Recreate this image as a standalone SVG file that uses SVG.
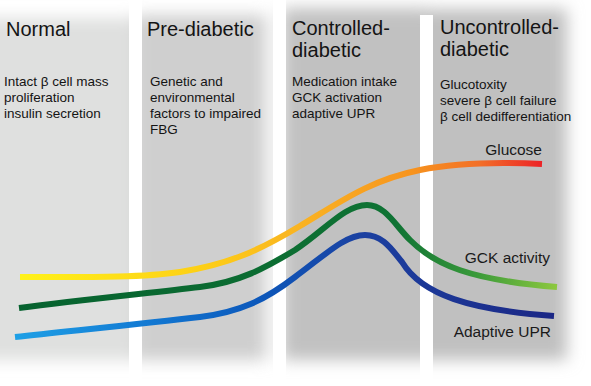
<svg xmlns="http://www.w3.org/2000/svg" width="591" height="386" viewBox="0 0 591 386">
  <defs>
    <filter id="soft" x="-20%" y="-20%" width="140%" height="140%">
      <feGaussianBlur stdDeviation="8"/>
    </filter>
    <linearGradient id="gGlucose" gradientUnits="userSpaceOnUse" x1="20" y1="0" x2="542" y2="0">
      <stop offset="0" stop-color="#fff21a"/>
      <stop offset="0.35" stop-color="#fdcf16"/>
      <stop offset="0.55" stop-color="#f9b123"/>
      <stop offset="0.75" stop-color="#f7941e"/>
      <stop offset="0.88" stop-color="#f26f28"/>
      <stop offset="1" stop-color="#ec2327"/>
    </linearGradient>
    <linearGradient id="gGck" gradientUnits="userSpaceOnUse" x1="19" y1="0" x2="557" y2="0">
      <stop offset="0" stop-color="#06622f"/>
      <stop offset="0.7" stop-color="#0f7334"/>
      <stop offset="0.85" stop-color="#3a9a3a"/>
      <stop offset="1" stop-color="#8dc83f"/>
    </linearGradient>
    <linearGradient id="gUpr" gradientUnits="userSpaceOnUse" x1="15" y1="0" x2="554" y2="0">
      <stop offset="0" stop-color="#1ea0e6"/>
      <stop offset="0.25" stop-color="#1278d2"/>
      <stop offset="0.45" stop-color="#0c58bb"/>
      <stop offset="0.65" stop-color="#1c40a0"/>
      <stop offset="1" stop-color="#1b2785"/>
    </linearGradient>
    <style>
      .title { font-family: "Liberation Sans", Arial, sans-serif; font-size: 20px; fill: #141414; }
      .body { font-family: "Liberation Sans", Arial, sans-serif; font-size: 13.5px; fill: #141414; }
      .label { font-family: "Liberation Sans", Arial, sans-serif; font-size: 15.5px; fill: #1a1a1a; text-anchor: end; }
      .curve { fill: none; stroke-width: 6; stroke-linecap: butt; }
    </style>
  </defs>

  <rect x="0" y="0" width="591" height="386" fill="#ffffff"/>

  <g id="backgrounds" filter="url(#soft)">
    <rect x="-30" y="18" width="168" height="342" fill="#dfe0df"/>
    <rect x="136" y="15" width="130" height="345" fill="#cfcfcf"/>
    <rect x="282" y="8" width="145" height="352" fill="#c1c1c1"/>
    <rect x="427" y="9" width="140" height="351" fill="#c0c0c0"/>
  </g>
  <g id="gaps" fill="#ffffff">
    <rect x="129" y="0" width="13" height="386"/>
    <rect x="273" y="0" width="13" height="386"/>
    <rect x="420" y="15" width="13" height="371"/>
  </g>

  <g id="normal">
    <text class="title" x="6" y="36">Normal</text>
    <text class="body" x="4" y="86">Intact β cell mass</text>
    <text class="body" x="4" y="102">proliferation</text>
    <text class="body" x="4" y="118">insulin secretion</text>
  </g>

  <g id="pre-diabetic">
    <text class="title" x="147" y="36">Pre-diabetic</text>
    <text class="body" x="150" y="86">Genetic and</text>
    <text class="body" x="150" y="102">environmental</text>
    <text class="body" x="150" y="118">factors to impaired</text>
    <text class="body" x="150" y="134">FBG</text>
  </g>

  <g id="controlled-diabetic">
    <text class="title" x="292" y="35">Controlled-</text>
    <text class="title" x="292" y="57">diabetic</text>
    <text class="body" x="292" y="86">Medication intake</text>
    <text class="body" x="292" y="102">GCK activation</text>
    <text class="body" x="292" y="118">adaptive UPR</text>
  </g>

  <g id="uncontrolled-diabetic">
    <text class="title" x="440" y="34">Uncontrolled-</text>
    <text class="title" x="440" y="56">diabetic</text>
    <text class="body" x="440" y="89">Glucotoxity</text>
    <text class="body" x="440" y="105">severe β cell failure</text>
    <text class="body" x="440" y="121">β cell dedifferentiation</text>
  </g>

  <g id="curves">
    <path class="curve" stroke="url(#gGlucose)" d="M20,277 C80,277 140,278 180,272 C230,264 260,250 300,226 C340,202 370,180 420,170 C460,162 500,162 542,164"/>
    <path class="curve" stroke="url(#gGck)" d="M19,308 C80,300 150,293 200,287 C240,282 265,268 295,250 C325,230 345,205 367,205 C385,205 395,225 410,240 C435,265 470,280 557,287"/>
    <path class="curve" stroke="url(#gUpr)" d="M15,337 C80,330 150,323 200,317 C240,312 265,300 295,277 C325,255 345,235 365,235 C383,235 392,250 402,262 C422,295 470,310 554,316"/>
  </g>

  <g id="curve-labels">
    <text class="label" x="542" y="155">Glucose</text>
    <text class="label" x="550" y="263">GCK activity</text>
    <text class="label" x="551" y="337">Adaptive UPR</text>
  </g>
</svg>
